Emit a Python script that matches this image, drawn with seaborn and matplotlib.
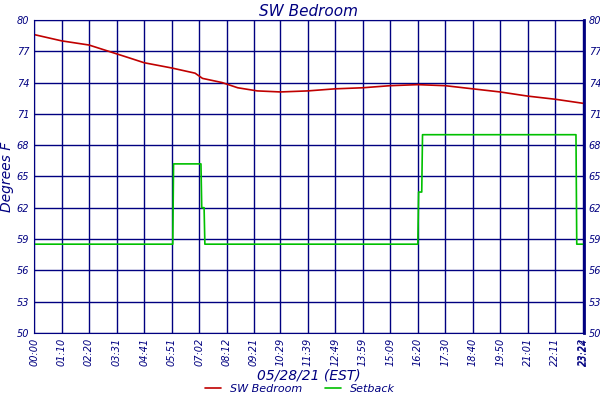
import matplotlib
matplotlib.use("Agg")
import matplotlib.pyplot as plt
import seaborn as sns
import pandas as pd

tick_labels = ["00:00","01:10","02:20","03:31","04:41","05:51","07:02","08:12","09:21","10:29","11:39","12:49","13:59","15:09","16:20","17:30","18:40","19:50","21:01","22:11","23:22","23:24"]
tick_min = [0,70,140,211,281,351,422,492,561,629,699,769,839,909,980,1050,1120,1190,1261,1331,1402,1404]

temp_t = [0,70,140,190,240,281,351,411,430,480,520,570,629,699,769,839,909,980,1050,1120,1190,1261,1331,1404]
temp_v = [78.6,78.0,77.6,77.0,76.4,75.9,75.4,74.9,74.4,74.0,73.5,73.2,73.1,73.2,73.4,73.5,73.7,73.8,73.7,73.4,73.1,72.7,72.4,72.0]

set_t = [0,354,356,426,428,434,436,980,982,990,992,1384,1386,1404]
set_v = [58.5,58.5,66.2,66.2,62.0,62.0,58.5,58.5,63.5,63.5,69.0,69.0,58.5,58.5]

sns.set_style("white")
navy = "#000080"
fig, ax = plt.subplots(figsize=(6,4), dpi=100)
fig.subplots_adjust(left=0.057, right=0.973, top=0.95, bottom=0.168)
df1 = pd.DataFrame({"t":temp_t,"v":temp_v})
df2 = pd.DataFrame({"t":set_t,"v":set_v})
sns.lineplot(data=df1, x="t", y="v", ax=ax, color="#c00000", lw=1.2, label="SW Bedroom")
sns.lineplot(data=df2, x="t", y="v", ax=ax, color="#00c000", lw=1.2, label="Setback")
ax.set_xlim(0,1404); ax.set_ylim(50,80)
yt = list(range(50,81,3))
ax.set_yticks(yt)
ax.set_xticks(tick_min)
ax.set_xticklabels(tick_labels, rotation=90, fontsize=7, color=navy, style="italic")
ax.tick_params(axis="y", labelsize=7, labelcolor=navy, length=0)
ax.tick_params(axis="x", length=0)
ax.grid(True, color=navy, lw=1)
for s in ax.spines.values():
    s.set_color(navy)
ax.spines["right"].set_linewidth(2)
ax2 = ax.twinx()
ax2.set_ylim(50,80); ax2.set_yticks(yt)
ax2.tick_params(axis="y", labelsize=7, labelcolor=navy, length=0)
for lab in ax.get_yticklabels()+ax2.get_yticklabels():
    lab.set_style("italic")
for s in ax2.spines.values():
    s.set_visible(False)
ax.set_title("SW Bedroom", color=navy, style="italic", fontsize=11, pad=3)
ax.set_ylabel("Degrees F", color=navy, style="italic", fontsize=10, labelpad=2)
ax.set_xlabel("05/28/21 (EST)", color=navy, style="italic", fontsize=10, labelpad=2)
h, l = ax.get_legend_handles_labels()
ax.get_legend().remove()
leg = fig.legend(h, l, loc="lower center", bbox_to_anchor=(0.5,-0.01), ncol=2, frameon=False, fontsize=8, labelcolor=navy, handlelength=1.5)
for t in leg.get_texts():
    t.set_style("italic")
fig.savefig("out.png", dpi=100)
